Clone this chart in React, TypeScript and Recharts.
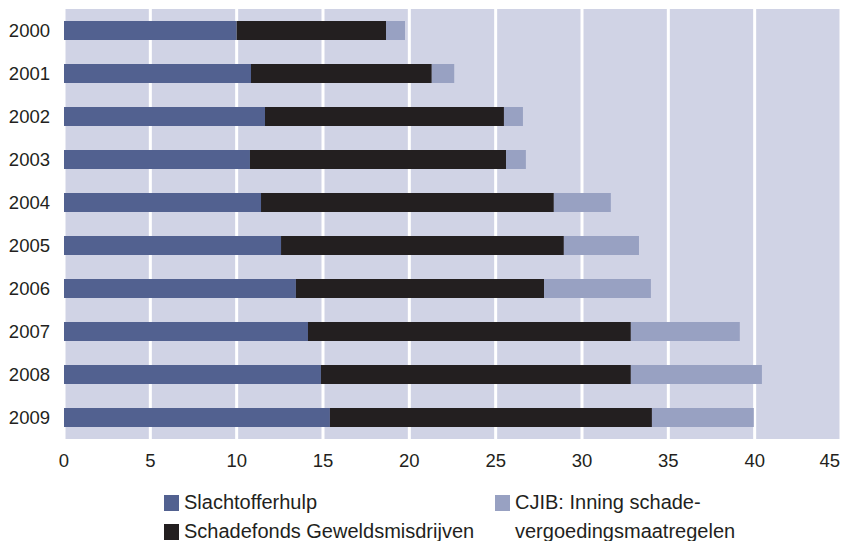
import React from "react";
import { BarChart, Bar, XAxis, YAxis, CartesianGrid } from "recharts";

const years = ["2000", "2001", "2002", "2003", "2004", "2005", "2006", "2007", "2008", "2009"];
const slachtofferhulp = [10.0, 10.83, 11.64, 10.77, 11.41, 12.57, 13.43, 14.13, 14.88, 15.4];
const schadefonds = [8.65, 10.47, 13.84, 14.83, 16.96, 16.38, 14.37, 18.7, 17.95, 18.65];
const cjib = [1.1, 1.3, 1.1, 1.15, 3.3, 4.35, 6.19, 6.31, 7.59, 5.9];
const xTicks = [0, 5, 10, 15, 20, 25, 30, 35, 40, 45];

const seriesNames = {
  a: "Slachtofferhulp",
  b: "Schadefonds Geweldsmisdrijven",
  c: "CJIB: Inning schade-\nvergoedingsmaatregelen",
};
const colors = { a: "#526190", b: "#231f20", c: "#98a1c2" };

const data = years.map((y, i) => ({
  year: y,
  a: slachtofferhulp[i],
  b: schadefonds[i],
  c: cjib[i],
}));

const textColor = "#231f20";
const font = "'Liberation Sans', Arial, sans-serif";

const XTick = (props: any) => {
  const { x, y, payload } = props;
  const last = payload.value === xTicks[xTicks.length - 1];
  return (
    <text
      x={last ? x - 1 : x}
      y={y}
      dy="0.71em"
      textAnchor={last ? "end" : "middle"}
      fill={textColor}
      fontSize={18.5}
      fontFamily={font}
    >
      {payload.value}
    </text>
  );
};

const LegendBlock = () => {
  const item = (key: "a" | "b" | "c", left: number, top: number) => (
    <div
      key={key}
      style={{ position: "absolute", left, top, display: "flex", alignItems: "flex-start" }}
    >
      <div style={{ width: 15, height: 16, background: colors[key], marginTop: 3, marginRight: 5 }} />
      <div style={{ whiteSpace: "pre", fontSize: 20, lineHeight: "29px", color: textColor, fontFamily: font, marginTop: -4 }}>
        {seriesNames[key]}
      </div>
    </div>
  );
  return (
    <div style={{ position: "absolute", left: 0, top: 492, width: 850, height: 49 }}>
      {item("a", 164, 0)}
      {item("b", 164, 29)}
      {item("c", 495, 0)}
    </div>
  );
};

export default function App() {
  return (
    <div style={{ position: "absolute", left: 0, top: 0, width: 850, height: 541, background: "#fff" }}>
      <BarChart
        width={850}
        height={541}
        data={data}
        layout="vertical"
        margin={{ top: 9, right: 9, left: 0, bottom: 62 }}
        barSize={19}
      >
        <CartesianGrid horizontal={false} vertical={true} stroke="#ffffff" strokeWidth={3} fill="#d0d3e5" />
        <XAxis
          type="number"
          domain={[0, 45]}
          ticks={xTicks}
          axisLine={false}
          tickLine={false}
          tickSize={0}
          tickMargin={15}
          height={40}
          tick={<XTick />}
        />
        <YAxis
          type="category"
          dataKey="year"
          width={64}
          axisLine={false}
          tickLine={false}
          tickSize={0}
          tickMargin={14}
          tick={{ fill: textColor, fontSize: 18.5, fontFamily: font }}
        />
        <Bar dataKey="a" stackId="s" fill={colors.a} isAnimationActive={false} />
        <Bar dataKey="b" stackId="s" fill={colors.b} isAnimationActive={false} />
        <Bar dataKey="c" stackId="s" fill={colors.c} isAnimationActive={false} />
      </BarChart>
      <LegendBlock />
    </div>
  );
}
